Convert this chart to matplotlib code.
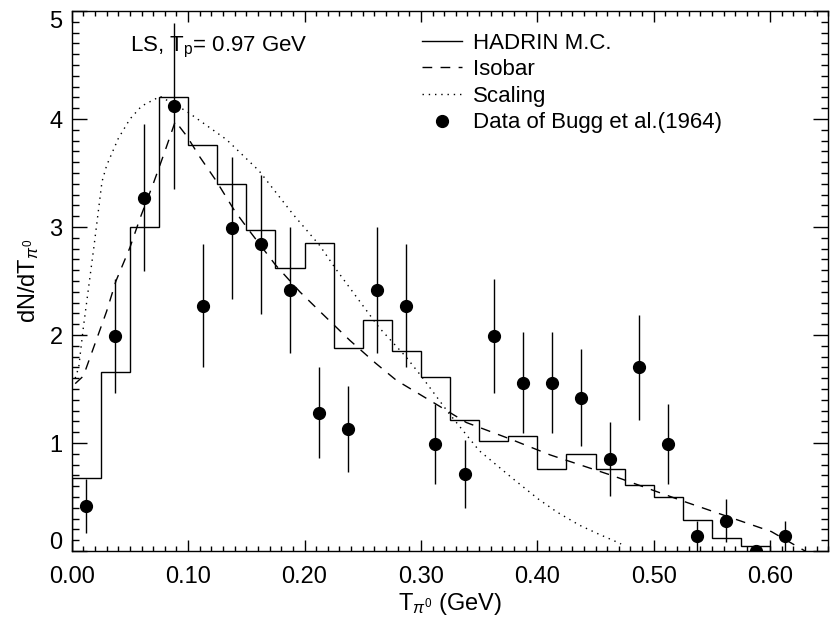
#!/usr/bin/env python3

import numpy as np
import matplotlib.pyplot as plt
import matplotlib.transforms as mtransforms
from matplotlib.lines import Line2D

plt.rcParams['font.family'] = ['Liberation Sans', 'DejaVu Sans']
plt.rcParams['mathtext.fontset'] = 'custom'
plt.rcParams['mathtext.rm'] = 'Liberation Sans'
plt.rcParams['mathtext.it'] = 'Liberation Sans:italic'
plt.rcParams['mathtext.bf'] = 'Liberation Sans:bold'

# HADRIN M.C. histogram, bins of 0.025 GeV
hist_edges = [0.000, 0.025, 0.050, 0.075, 0.100, 0.125, 0.150, 0.175, 0.200,
              0.225, 0.250, 0.275, 0.300, 0.325, 0.350, 0.375, 0.400, 0.425,
              0.450, 0.475, 0.500, 0.525, 0.550, 0.575, 0.600]
hist_vals = [0.68, 1.66, 3.00, 4.20, 3.76, 3.40, 2.97, 2.62, 2.85, 1.88, 2.14, 1.85,
             1.61, 1.21, 1.02, 1.065, 0.76, 0.90, 0.76, 0.615, 0.50, 0.283, 0.117, 0.046]

# Isobar model (dashed)
iso_x = [0.003, 0.010, 0.020, 0.030, 0.038, 0.050, 0.059, 0.070, 0.080, 0.089,
         0.099, 0.110, 0.124, 0.140, 0.153, 0.175, 0.196, 0.215, 0.239, 0.261,
         0.279, 0.313, 0.339, 0.376, 0.411, 0.464, 0.527, 0.601, 0.630]
iso_y = [1.55, 1.62, 1.92, 2.22, 2.50, 2.81, 3.09, 3.40, 3.70, 3.98,
         3.84, 3.65, 3.43, 3.15, 2.96, 2.65, 2.40, 2.20, 1.95, 1.74,
         1.58, 1.36, 1.19, 1.04, 0.89, 0.70, 0.455, 0.18, 0.0]

# Scaling model (dotted)
sc_x = [0.003, 0.006, 0.010, 0.019, 0.026, 0.030, 0.040, 0.050, 0.060, 0.076,
        0.099, 0.133, 0.161, 0.190, 0.213, 0.227, 0.264, 0.287, 0.301, 0.323,
        0.350, 0.379, 0.401, 0.417, 0.436, 0.452, 0.469, 0.472]
sc_y = [1.60, 1.70, 2.07, 2.81, 3.42, 3.57, 3.82, 4.00, 4.12, 4.21,
        4.07, 3.81, 3.52, 3.12, 2.83, 2.61, 2.07, 1.80, 1.61, 1.29,
        0.93, 0.67, 0.48, 0.36, 0.24, 0.16, 0.08, 0.065]

# Data of Bugg et al. (1964)
data_x = [0.0125, 0.0375, 0.0625, 0.0875, 0.1125, 0.1375, 0.1625, 0.1875, 0.2125,
          0.2375, 0.2625, 0.2875, 0.3125, 0.3375, 0.3625, 0.3875, 0.4125, 0.4375,
          0.4625, 0.4875, 0.5125, 0.5375, 0.5625, 0.5875, 0.6125]
data_y = [0.42, 1.99, 3.27, 4.12, 2.27, 2.99, 2.84, 2.42, 1.28,
          1.13, 2.42, 2.27, 0.99, 0.71, 1.99, 1.56, 1.56, 1.42,
          0.85, 1.70, 0.99, 0.14, 0.28, 0.0, 0.14]
data_err = [0.25, 0.53, 0.68, 0.77, 0.57, 0.655, 0.645, 0.585, 0.42,
            0.40, 0.585, 0.57, 0.37, 0.315, 0.53, 0.47, 0.47, 0.45,
            0.345, 0.49, 0.37, 0.14, 0.20, 0.0, 0.14]

fig = plt.figure(figsize=(8.3, 6.3), dpi=100)
ax = fig.add_axes([0.0864, 0.1254, 0.9116, 0.857])

ax.stairs(hist_vals, hist_edges, baseline=0, color='black', lw=1.0)
ax.plot(iso_x, iso_y, color='black', lw=1.0, dashes=(7, 6))
ax.plot(sc_x, sc_y, color='black', lw=1.0, dashes=(1, 3.5))
ax.errorbar(data_x, data_y, yerr=data_err, fmt='o', color='black', ms=8.5,
            elinewidth=1.0, capsize=0)

ax.set_xlim(0, 0.65)
ax.set_ylim(0, 5)
ax.set_xticks(np.arange(0, 0.61, 0.1))
ax.set_xticks(np.arange(0, 0.651, 0.01), minor=True)
ax.set_yticks(np.arange(0, 5.1, 1))
ax.set_yticks(np.arange(0, 5.01, 0.1), minor=True)
ax.set_xticklabels(['%.2f' % v for v in np.arange(0, 0.61, 0.1)])
ax.set_yticklabels(['%d' % v for v in range(6)])

ax.tick_params(axis='both', which='both', direction='in', top=True, right=True,
               width=1.0, labelsize=17)
ax.tick_params(axis='x', which='major', length=7.7, pad=11)
ax.tick_params(axis='x', which='minor', length=3.6)
ax.tick_params(axis='y', which='major', length=10.8, pad=6.5)
ax.tick_params(axis='y', which='minor', length=5.3)
for sp in ax.spines.values():
    sp.set_linewidth(1.0)

ax.set_xlabel(r'T$_{\pi^0}$ (GeV)', fontsize=17, labelpad=2)
ax.set_ylabel(r'dN/dT$_{\pi^0}$', fontsize=17, labelpad=6)

ax.text(0.05, 4.66, r'LS, T$_\mathrm{p}$= 0.97 GeV', fontsize=16, va='center')

handles = [Line2D([], [], color='black', lw=1.0),
           Line2D([], [], color='black', lw=1.0, dashes=(7, 6)),
           Line2D([], [], color='black', lw=1.0, dashes=(1, 3.5)),
           Line2D([], [], color='black', marker='o', ms=8.5, ls='none')]
labels = ['HADRIN M.C.', 'Isobar', 'Scaling', 'Data of Bugg et al.(1964)']
ax.legend(handles, labels, loc='upper left', bbox_to_anchor=(0.463, 0.96),
          frameon=False, fontsize=16, handlelength=1.8, handletextpad=0.5,
          labelspacing=0.25, borderpad=0, borderaxespad=0)

# keep the end labels inside the frame, as in the original
dy = mtransforms.ScaledTranslation(0, -8 / 100, fig.dpi_scale_trans)
uy = mtransforms.ScaledTranslation(0, 10 / 100, fig.dpi_scale_trans)
yt = ax.yaxis.get_major_ticks()
yt[-1].label1.set_transform(yt[-1].label1.get_transform() + dy)
yt[0].label1.set_transform(yt[0].label1.get_transform() + uy)

plt.savefig('out.png', dpi=100)
